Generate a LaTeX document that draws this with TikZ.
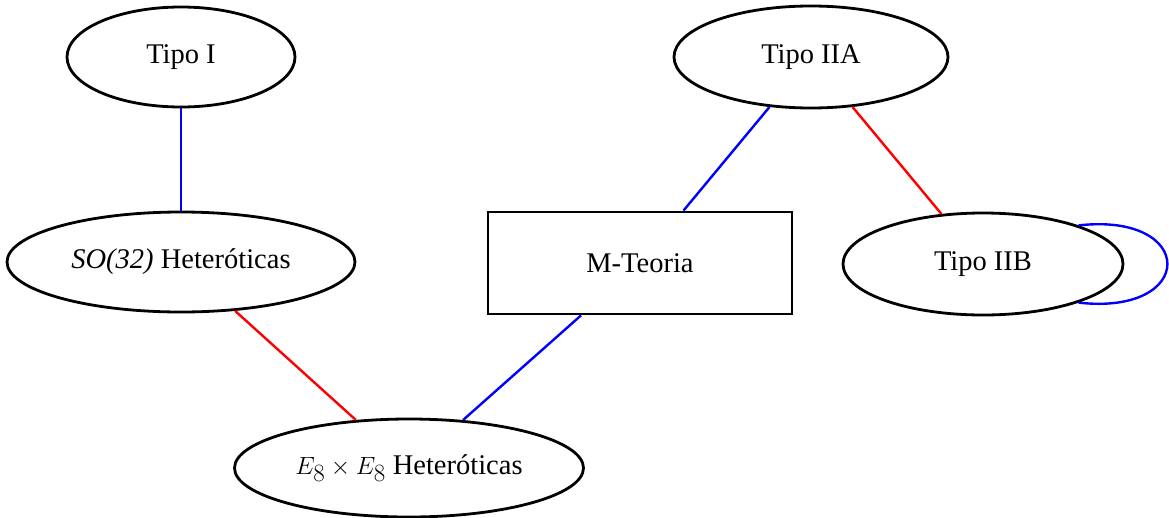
\documentclass[tikz,border=0pt]{standalone}
\usepackage{fontspec}
\setmainfont{Liberation Serif}
\usetikzlibrary{shapes.geometric}
\begin{document}
\begin{tikzpicture}[x=1pt,y=-1pt,
  theory/.style={ellipse,draw=black,line width=2.8pt,inner sep=0pt,font=\fontsize{28.5}{32}\selectfont},
  mbox/.style={rectangle,draw=black,line width=2.8pt,inner sep=0pt,font=\fontsize{28.5}{32}\selectfont},
  blueedge/.style={draw=blue,line width=2.4pt},
  rededge/.style={draw=red,line width=2.4pt}]
\useasboundingbox (0,0) rectangle (1169,517);
\node[theory,minimum width=228pt,minimum height=100pt] (t1) at (181,57) {Tipo I};
\node[theory,minimum width=274pt,minimum height=102pt] (t2a) at (811,57) {Tipo IIA};
\node[theory,minimum width=348pt,minimum height=100pt] (so) at (181,262) {\textit{SO(32)} Heteróticas};
\node[mbox,minimum width=304pt,minimum height=102pt] (m) at (640,263) {M-Teoria};
\node[theory,minimum width=349pt,minimum height=98pt] (e8) at (409,468) {{\fontsize{34}{38}\selectfont$E_8\times E_8$} Heteróticas};
\node[theory,minimum width=280pt,minimum height=102pt] (t2b) at (983,264) {Tipo IIB};
\draw[blueedge] (t1) -- (so);
\draw[blueedge] (t2a) -- (m);
\draw[rededge] (t2a) -- (t2b);
\draw[rededge] (so) -- (e8);
\draw[blueedge] (m) -- (e8);
\draw[blueedge] (t2b.22) .. controls (1197,212) and (1197,316) .. (t2b.-22);
\end{tikzpicture}
\end{document}
